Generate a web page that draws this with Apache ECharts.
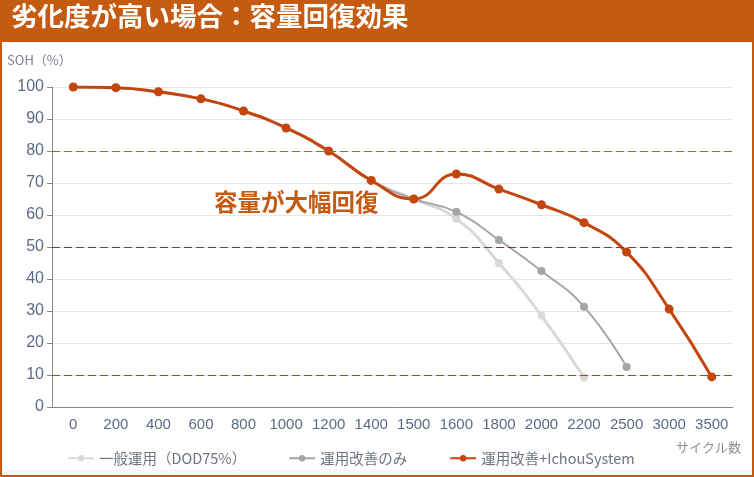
<!DOCTYPE html>
<html>
<head>
<meta charset="utf-8">
<script src="https://cdn.jsdelivr.net/npm/echarts@6/dist/echarts.min.js"></script>
<style>
html,body{margin:0;padding:0;background:#fff;}
#main{width:754px;height:477px;}
</style>
</head>
<body>
<div id="main"></div>
<script>
const categories = ['0','200','400','600','800','1000','1200','1400','1500','1600','1800','2000','2200','2500','3000','3500'];
const generalOp = [100, 99.8, 98.5, 96.3, 92.5, 87.2, 80, 70.8, 65, 58.8, 45, 28.5, 9.2, null, null, null];
const improvedOp = [100, 99.8, 98.5, 96.3, 92.5, 87.2, 80, 70.8, 65, 61, 52.2, 42.5, 31.3, 12.5, null, null];
const improvedIchou = [100, 99.8, 98.5, 96.3, 92.5, 87.2, 80, 70.8, 65, 72.8, 68.1, 63.2, 57.6, 48.4, 30.6, 9.4];
const seriesNames = ['一般運用（DOD75%）', '運用改善のみ', '運用改善+IchouSystem'];
const refLines = [80, 50, 10];
const titleText = '劣化度が高い場合：容量回復効果';
const noteText = '容量が大幅回復';

const FONT = '"Liberation Sans", "Noto Sans CJK JP", sans-serif';
const JP = '"Noto Sans CJK JP", sans-serif';
const chart = echarts.init(document.getElementById('main'));
const refColors = ['#7d7d14', '#8a2d55', '#a24c0c'];

function refMark(i) {
  return {
    silent: true, symbol: 'none', label: { show: false }, animation: false,
    lineStyle: { color: refColors[i], type: [8, 4], width: 1.2, opacity: 1 },
    emphasis: { disabled: true },
    data: [{ yAxis: refLines[i] }]
  };
}

chart.setOption({
  animation: false,
  backgroundColor: '#ffffff',
  textStyle: { fontFamily: FONT },
  graphic: [
    { type: 'rect', shape: { x: 0, y: 469, width: 754, height: 8 }, style: { fill: '#f6f8fb' }, z: -1 },
    { type: 'rect', shape: { x: 1, y: 1, width: 752, height: 475 }, style: { fill: 'none', stroke: '#C55A11', lineWidth: 2 }, z: 10 },
    { type: 'rect', shape: { x: 0, y: 0, width: 754, height: 42 }, style: { fill: '#C55A11' }, z: 11 },
    { type: 'text', left: 11, top: 3, style: { text: titleText, fill: '#ffffff', font: 'bold 26.5px ' + JP }, z: 12 },
    { type: 'text', left: 214, top: 190, style: { text: noteText, fill: '#C55A11', font: 'bold 23.5px ' + JP }, z: 12 }
  ],
  grid: { left: 52, right: 21, top: 87, bottom: 70, containLabel: false },
  legend: {
    left: 62, top: 446, itemWidth: 26, itemHeight: 8, itemGap: 42,
    textStyle: { color: '#6e7582', fontSize: 14.5, fontFamily: JP },
    data: seriesNames
  },
  xAxis: {
    type: 'category', data: categories, boundaryGap: true,
    name: 'サイクル数', nameLocation: 'end', nameGap: 0,
    nameTextStyle: { color: '#8a8f99', fontSize: 13, align: 'right', verticalAlign: 'top', padding: [34, -8, 0, 0], fontFamily: JP },
    axisLine: { lineStyle: { color: '#888888' } },
    axisTick: { lineStyle: { color: '#888888' } },
    axisLabel: { color: '#5b6985', fontSize: 15, margin: 10, interval: 0 }
  },
  yAxis: {
    type: 'value', min: 0, max: 100, interval: 10,
    name: 'SOH（%）', nameLocation: 'end', nameGap: 0,
    nameTextStyle: { color: '#7a8090', fontSize: 13, align: 'left', padding: [0, 0, 20, -45], fontFamily: JP },
    axisLine: { show: true, lineStyle: { color: '#888888' } },
    axisTick: { show: true, lineStyle: { color: '#888888' } },
    axisLabel: { color: '#5b6985', fontSize: 16, margin: 8 },
    splitLine: { lineStyle: { color: '#e3e6ee' } }
  },
  series: [
    {
      name: seriesNames[0], type: 'line', data: generalOp, smooth: true, z: 2,
      symbol: 'circle', symbolSize: 8,
      itemStyle: { color: '#d9d9d9' }, lineStyle: { color: '#d9d9d9', width: 3 },
      markLine: refMark(0)
    },
    {
      name: seriesNames[1], type: 'line', data: improvedOp, smooth: true, z: 3,
      symbol: 'circle', symbolSize: 8,
      itemStyle: { color: '#a5a5a5' }, lineStyle: { color: '#a5a5a5', width: 2 },
      markLine: refMark(1)
    },
    {
      name: seriesNames[2], type: 'line', data: improvedIchou, smooth: true, z: 4,
      symbol: 'circle', symbolSize: 9,
      itemStyle: { color: '#c4460f' }, lineStyle: { color: '#c4460f', width: 3 },
      markLine: refMark(2)
    }
  ]
});
</script>
</body>
</html>
